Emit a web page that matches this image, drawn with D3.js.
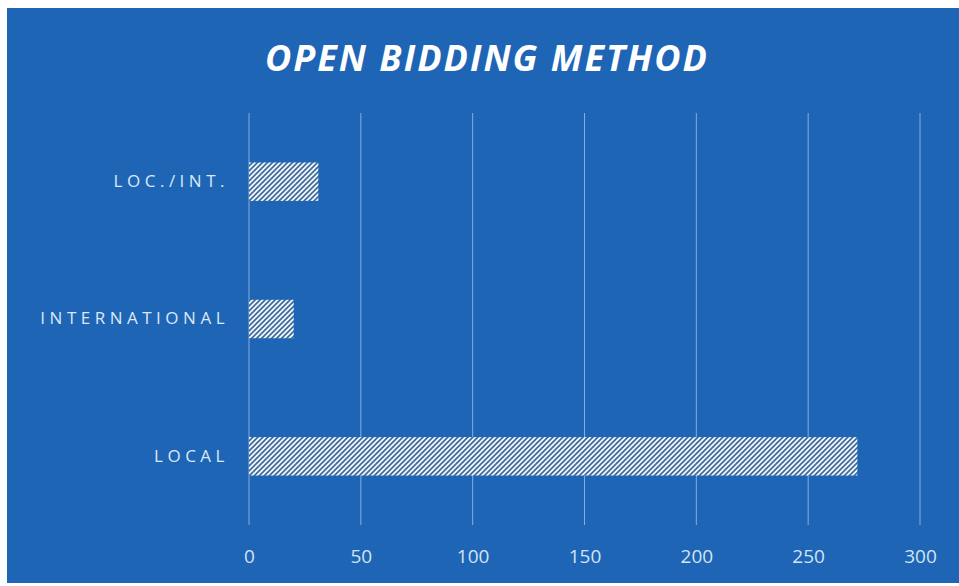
<!DOCTYPE html>
<html>
<head>
<meta charset="utf-8">
<script src="https://cdn.jsdelivr.net/npm/d3@7"></script>
<style>
  body { margin: 0; background: #ffffff; }
  svg { display: block; }
</style>
</head>
<body>
<svg id="chart" width="959" height="586"></svg>
<script>
// data
const categories = ['LOC./INT.', 'INTERNATIONAL', 'LOCAL'];
const values = [31, 20, 272];
const tickValues = [0, 50, 100, 150, 200, 250, 300];

const width = 959, height = 586;
const margin = {left: 249, right: 39, top: 113, bottom: 61};

const svg = d3.select('#chart');

// scanned page: white edge, blue panel
svg.append('rect')
    .attr('x', 7).attr('y', 8)
    .attr('width', width - 7).attr('height', 575)
    .attr('fill', '#1e65b5');

// hatch pattern for the bars
const pat = svg.append('defs').append('pattern')
    .attr('id', 'hatch')
    .attr('patternUnits', 'userSpaceOnUse')
    .attr('width', 5).attr('height', 5);
pat.append('rect').attr('width', 5).attr('height', 5).attr('fill', '#eef8fc');
pat.append('path')
    .attr('d', 'M-1,1 l2,-2 M0,5 l5,-5 M4,6 l2,-2')
    .attr('stroke', '#43699a')
    .attr('stroke-width', 1.7);

let x = d3.scaleLinear()
    .domain([0, 300])
    .range([margin.left, width - margin.right]);

let y = d3.scaleBand()
    .domain(categories)
    .range([margin.top, height - margin.bottom])
    .paddingInner(0.72)
    .paddingOuter(0.36);

// vertical gridlines
svg.append('g')
    .selectAll('line')
    .data(tickValues)
    .enter()
    .append('line')
    .attr('x1', d => x(d)).attr('x2', d => x(d))
    .attr('y1', margin.top).attr('y2', height - margin.bottom)
    .attr('stroke', '#86ade0')
    .attr('stroke-width', 1);

// bars
svg.append('g')
    .selectAll('rect')
    .data(values)
    .enter()
    .append('rect')
    .attr('x', x(0))
    .attr('y', (d, i) => y(categories[i]))
    .attr('width', d => x(d) - x(0))
    .attr('height', y.bandwidth())
    .attr('fill', 'url(#hatch)');

// x axis labels
const xAxis = d3.axisBottom(x).tickValues(tickValues).tickSize(0).tickPadding(0);
const gx = svg.append('g')
    .attr('transform', 'translate(0,' + 563 + ')')
    .call(xAxis);
gx.select('.domain').remove();
gx.selectAll('text')
    .attr('dy', 0)
    .attr('fill', '#d2e3f3')
    .style('font-family', '"Open Sans", sans-serif')
    .style('font-size', '19px');

// category labels
const yAxis = d3.axisLeft(y).tickSize(0).tickPadding(0);
const gy = svg.append('g')
    .attr('transform', 'translate(' + 229 + ',0)')
    .call(yAxis);
gy.select('.domain').remove();
gy.selectAll('text')
    .attr('fill', '#dbe8f5')
    .style('font-family', '"Open Sans", sans-serif')
    .style('font-size', '17px')
    .style('letter-spacing', '4.5px');

// title
svg.append('text')
    .attr('x', 487)
    .attr('y', 71)
    .attr('text-anchor', 'middle')
    .attr('fill', '#ffffff')
    .style('font-family', '"Open Sans", sans-serif')
    .style('font-size', '36px')
    .style('font-weight', 'bold')
    .style('font-style', 'italic')
    .style('letter-spacing', '2px')
    .text('OPEN BIDDING METHOD');
</script>
</body>
</html>
